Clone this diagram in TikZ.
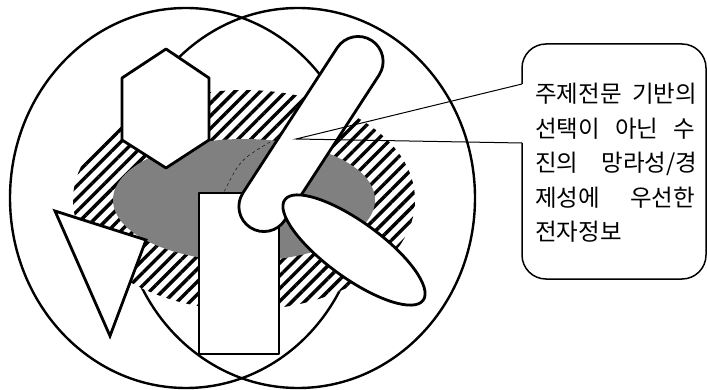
\documentclass[tikz,border=0pt]{standalone}
\usepackage{fontspec}
\newfontfamily\korfont{Noto Sans CJK KR}
\usetikzlibrary{shapes.geometric,patterns.meta}
\tikzset{ring/.style={line width=2.4pt},
  shp/.style={draw,fill=white,line width=2.8pt,line join=round},
  lead/.style={line width=1pt},
  hatch/.style={pattern={Lines[angle=45,distance=9pt,line width=3.4pt]}},
  txt/.style={anchor=north west,inner sep=0pt,align=left,font=\korfont\fontsize{23.5}{34.5}\selectfont}}

\begin{document}
\begin{tikzpicture}[x=1pt,y=-1pt]
\useasboundingbox (0,0) rectangle (707,390);
\draw[ring] (186,198) ellipse [x radius=176,y radius=190];
\draw[ring] (298,198) ellipse [x radius=177,y radius=190];
\fill[white] (244,200) ellipse [x radius=171,y radius=110];
\fill[hatch] (244,200) ellipse [x radius=171,y radius=110];
\fill[gray] (244,200) ellipse [x radius=131,y radius=61];
\draw[dashed,thin] (270,142) .. controls (240,160) .. (224,192);
\draw[shp] (199,193) rectangle (279,354);
\node[shp,rounded corners=25pt,minimum width=223pt,minimum height=50pt,inner sep=0pt,rotate=57] (stick) at (311,134) {};
\node[shp,ellipse,minimum width=171pt,minimum height=56pt,inner sep=0pt,rotate=-36] (blade) at (354,250) {};
\draw[shp] (166,49) -- (209,78) -- (209,140) -- (166,168) -- (122,140) -- (122,78) -- cycle;
\draw[shp,line join=miter] (55,211) -- (146,240) -- (110,336) -- cycle;
\coordinate (tip) at (296,139);
\coordinate (up) at (522,84);
\coordinate (dn) at (522,143);
\draw[line width=1.5pt,rounded corners=24pt] (up) -- (522,44) -- (706,44) -- (706,279) -- (522,279) -- (dn);
\draw[lead] (up) -- (tip) -- (dn);
\node[txt] (note) at (535,83) {\makebox[162pt][s]{주제전문 기반의}\\
  \makebox[160pt][s]{선택이 아닌 수}\\
  \makebox[162pt][s]{진의 망라성/경}\\
  \makebox[160pt][s]{제성에 우선한}\\
  전자정보};
\end{tikzpicture}
\end{document}
